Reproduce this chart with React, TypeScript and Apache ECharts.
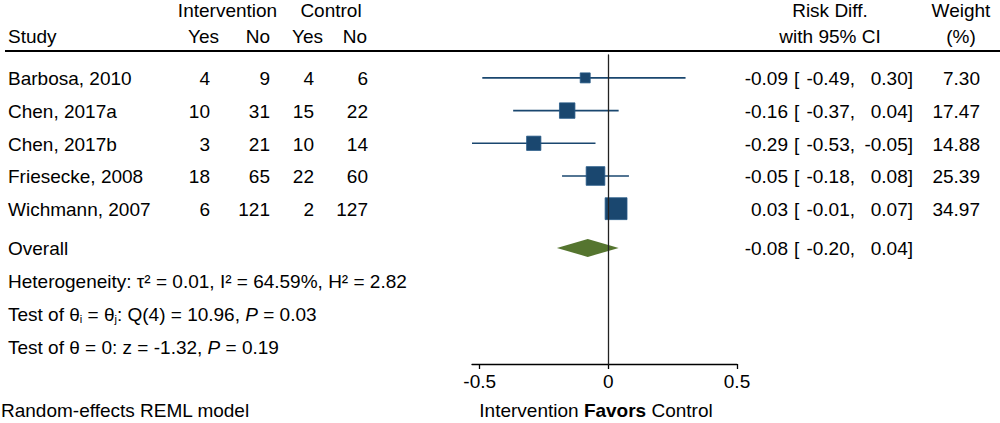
import React, { useEffect, useRef } from "react";
import * as echarts from "echarts";

// ---- data ----
const studies = ["Barbosa, 2010", "Chen, 2017a", "Chen, 2017b", "Friesecke, 2008", "Wichmann, 2007"];
const intYes = [4, 10, 3, 18, 6];
const intNo = [9, 31, 21, 65, 121];
const ctlYes = [4, 15, 10, 22, 2];
const ctlNo = [6, 22, 14, 60, 127];
const riskDiff = [-0.09, -0.16, -0.29, -0.05, 0.03];
const ciLow = [-0.49, -0.37, -0.53, -0.18, -0.01];
const ciHigh = [0.3, 0.04, -0.05, 0.08, 0.07];
const weights = [7.3, 17.47, 14.88, 25.39, 34.97];
const overallLabel = "Overall";
const overallRD = -0.08;
const overallLow = -0.2;
const overallHigh = 0.04;
const xTicks = [-0.5, 0, 0.5];

// ---- layout ----
const FONT = "'Liberation Sans', Arial, Helvetica, sans-serif";
const FS = 19;
const NAVY = "#1a476f";
const GREEN = "#55752f";
const GRID_TOP = 55;
const GRID_BOTTOM_Y = 364;
const Y_MIN = 0.3;
const Y_MAX = 9.75;
const OVERALL_POS = 6.2;
const rowY = (v: number) => GRID_TOP + ((v - Y_MIN) / (Y_MAX - Y_MIN)) * (GRID_BOTTOM_Y - GRID_TOP);
const f2 = (v: number) => v.toFixed(2);

function txt(text: string, x: number, y: number, align: string = "left", extra: any = {}) {
  return {
    type: "text",
    x,
    y,
    silent: true,
    style: {
      text,
      fill: "#000",
      fontSize: FS,
      fontFamily: FONT,
      align,
      verticalAlign: "middle",
      ...extra,
    },
  };
}

export default function App() {
  const ref = useRef<HTMLDivElement>(null);
  useEffect(() => {
    if (!ref.current) return;
    const chart = echarts.init(ref.current, null, { renderer: "svg" });

    const g: any[] = [];
    // headers
    const H1 = 10;
    const H2 = 36;
    g.push(txt("Intervention", 227.5, H1, "center"));
    g.push(txt("Control", 331, H1, "center"));
    g.push(txt("Study", 8, H2));
    g.push(txt("Yes", 188, H2, "left"));
    g.push(txt("No", 270, H2, "right"));
    g.push(txt("Yes", 292, H2, "left"));
    g.push(txt("No", 367, H2, "right"));
    g.push(txt("Risk Diff.", 830, H1, "center"));
    g.push(txt("with 95% CI", 830, H2, "center"));
    g.push(txt("Weight", 961, H1, "center"));
    g.push(txt("(%)", 961, H2, "center"));
    g.push({
      type: "line",
      silent: true,
      shape: { x1: 5, y1: 51, x2: 1000, y2: 51 },
      style: { stroke: "#000", lineWidth: 1.8 },
    });

    studies.forEach((s, i) => {
      const y = rowY(i + 1) + 1;
      g.push(txt(s, 8, y));
      g.push(txt(String(intYes[i]), 210, y, "right"));
      g.push(txt(String(intNo[i]), 270, y, "right"));
      g.push(txt(String(ctlYes[i]), 314, y, "right"));
      g.push(txt(String(ctlNo[i]), 368, y, "right"));
      g.push(txt(f2(riskDiff[i]), 788, y, "right"));
      g.push(txt("[", 794, y, "left"));
      g.push(txt(f2(ciLow[i]) + ",", 855, y, "right"));
      g.push(txt(f2(ciHigh[i]) + "]", 913, y, "right"));
      g.push(txt(f2(weights[i]), 980, y, "right"));
    });
    const oy = rowY(OVERALL_POS) + 1;
    g.push(txt(overallLabel, 8, oy));
    g.push(txt(f2(overallRD), 788, oy, "right"));
    g.push(txt("[", 794, oy, "left"));
    g.push(txt(f2(overallLow) + ",", 855, oy, "right"));
    g.push(txt(f2(overallHigh) + "]", 913, oy, "right"));

    g.push(txt("Heterogeneity: \u03c4\u00b2 = 0.01, I\u00b2 = 64.59%, H\u00b2 = 2.82", 8, rowY(7.2) + 1));
    g.push({
      type: "text",
      x: 8,
      y: rowY(8.2) + 1,
      silent: true,
      style: {
        text: "{n|Test of \u03b8}{s|i}{n| = \u03b8}{s|j}{n|: Q(4) = 10.96, }{it|P}{n| = 0.03}",
        fill: "#000",
        fontSize: FS,
        fontFamily: FONT,
        align: "left",
        verticalAlign: "middle",
        rich: {
          n: { fontSize: FS, fontFamily: FONT, fill: "#000" },
          s: { fontSize: 11, fontFamily: FONT, fill: "#000", padding: [9, 0, 0, 0] },
          it: { fontSize: FS, fontFamily: FONT, fill: "#000", fontStyle: "italic" },
        },
      },
    });
    g.push({
      type: "text",
      x: 8,
      y: rowY(9.2) + 1,
      silent: true,
      style: {
        text: "{n|Test of \u03b8 = 0: z = -1.32, }{it|P}{n| = 0.19}",
        fill: "#000",
        fontSize: FS,
        fontFamily: FONT,
        align: "left",
        verticalAlign: "middle",
        rich: {
          n: { fontSize: FS, fontFamily: FONT, fill: "#000" },
          it: { fontSize: FS, fontFamily: FONT, fill: "#000", fontStyle: "italic" },
        },
      },
    });
    g.push(txt("Random-effects REML model", 1, 410));
    g.push({
      type: "text",
      x: 596,
      y: 410,
      silent: true,
      style: {
        text: "{n|Intervention }{b|Favors}{n| Control}",
        fill: "#000",
        fontSize: FS,
        fontFamily: FONT,
        align: "center",
        verticalAlign: "middle",
        rich: {
          n: { fontSize: FS, fontFamily: FONT, fill: "#000" },
          b: { fontSize: FS, fontFamily: FONT, fill: "#000", fontWeight: "bold" },
        },
      },
    });

    const studyData = studies.map((_, i) => [riskDiff[i], i + 1, ciLow[i], ciHigh[i], weights[i]]);
    const overallData = [[overallRD, OVERALL_POS, overallLow, overallHigh]];

    chart.setOption({
      animation: false,
      backgroundColor: "#fff",
      grid: {
        left: 472,
        right: 1000 - 737,
        top: GRID_TOP,
        bottom: 423 - GRID_BOTTOM_Y,
        outerBoundsMode: "none",
      },
      xAxis: {
        type: "value",
        min: -0.53,
        max: 0.5,
        splitLine: { show: false },
        axisLine: { show: true, onZero: false, lineStyle: { color: "#000", width: 1.3 } },
        axisTick: { show: true, length: 5, customValues: xTicks, lineStyle: { color: "#000", width: 1.3 } },
        axisLabel: {
          show: true,
          customValues: xTicks,
          margin: 8,
          fontSize: FS,
          fontFamily: FONT,
          color: "#000",
          formatter: (v: number) => String(v),
        },
      },
      yAxis: {
        type: "value",
        inverse: true,
        min: Y_MIN,
        max: Y_MAX,
        z: 10,
        splitLine: { show: false },
        axisTick: { show: false },
        axisLabel: { show: false },
        axisLine: { show: true, onZero: true, lineStyle: { color: "#222", width: 1.3 } },
      },
      graphic: g,
      series: [
        {
          type: "custom",
          clip: false,
          z: 2,
          data: studyData,
          renderItem: (params: any, api: any) => {
            const c = api.coord([api.value(0), api.value(1)]);
            const l = api.coord([api.value(2), api.value(1)]);
            const h = api.coord([api.value(3), api.value(1)]);
            const size = 3.7 * Math.sqrt(api.value(4));
            return {
              type: "group",
              children: [
                {
                  type: "line",
                  shape: { x1: l[0], y1: l[1], x2: h[0], y2: h[1] },
                  style: { stroke: NAVY, lineWidth: 1.6 },
                },
                {
                  type: "rect",
                  shape: { x: c[0] - size / 2, y: c[1] - size / 2, width: size, height: size },
                  style: { fill: NAVY, stroke: "#275a88", lineWidth: 0.8 },
                },
              ],
            };
          },
        },
        {
          type: "custom",
          clip: false,
          z: 2,
          data: overallData,
          renderItem: (params: any, api: any) => {
            const c = api.coord([api.value(0), api.value(1)]);
            const l = api.coord([api.value(2), api.value(1)]);
            const h = api.coord([api.value(3), api.value(1)]);
            const hh = 9;
            return {
              type: "polygon",
              shape: {
                points: [
                  [l[0], l[1]],
                  [c[0], c[1] - hh],
                  [h[0], h[1]],
                  [c[0], c[1] + hh],
                ],
              },
              style: { fill: GREEN },
            };
          },
        },
      ],
    });
    return () => chart.dispose();
  }, []);

  return (
    <div
      ref={ref}
      style={{ position: "fixed", left: 0, top: 0, width: 1000, height: 423, background: "#fff" }}
    />
  );
}
